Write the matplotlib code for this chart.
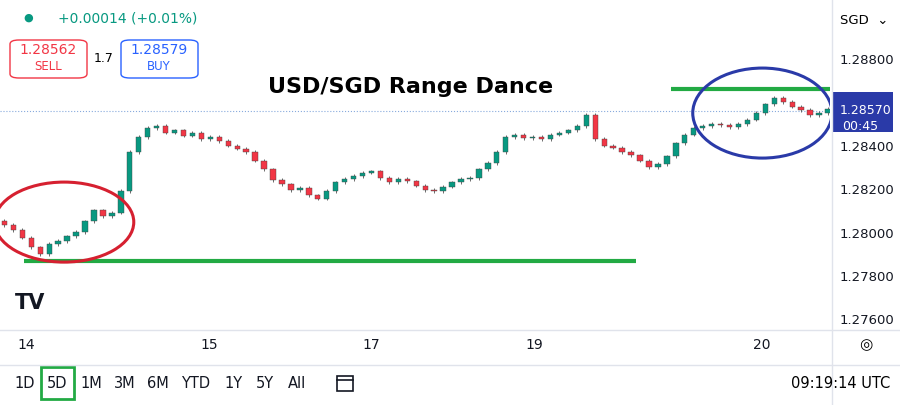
import matplotlib
matplotlib.use("Agg")
import matplotlib.pyplot as plt
from matplotlib.patches import Ellipse, Rectangle, FancyBboxPatch

closes = [1.28042,1.28020,1.27985,1.27940,1.27910,1.27955,1.27970,1.27990,1.28010,1.28060,
1.28110,1.28085,1.28100,1.28200,1.28380,1.28450,1.28490,1.28500,1.28470,1.28480,
1.28455,1.28470,1.28440,1.28450,1.28430,1.28410,1.28395,1.28380,1.28340,1.28300,
1.28250,1.28230,1.28205,1.28215,1.28180,1.28165,1.28200,1.28240,1.28255,1.28270,
1.28285,1.28290,1.28260,1.28240,1.28255,1.28245,1.28225,1.28205,1.28200,1.28220,
1.28240,1.28255,1.28260,1.28300,1.28330,1.28380,1.28450,1.28460,1.28445,1.28450,
1.28440,1.28460,1.28470,1.28480,1.28500,1.28550,1.28440,1.28410,1.28400,1.28380,
1.28365,1.28340,1.28310,1.28325,1.28360,1.28420,1.28460,1.28490,1.28500,1.28510,
1.28505,1.28495,1.28510,1.28530,1.28560,1.28600,1.28630,1.28610,1.28590,1.28575,
1.28550,1.28560,1.28580]
date_labels = ["14", "15", "17", "19", "20"]
date_pos = [2.4, 22.8, 40.8, 58.9, 84.1]
price_ticks = [1.288, 1.286, 1.284, 1.282, 1.280, 1.278, 1.276]
support, resistance, last_price = 1.27876, 1.28671, 1.28570

W, H = 900, 405
fig = plt.figure(figsize=(9, 4.05), dpi=100)
fig.patch.set_facecolor("white")
ax = fig.add_axes([0, (H-330)/H, 830/W, 330/H])
ax.set_xlim(-0.5, 830/9)
ax.set_ylim(1.27558, 1.29082)
for s in ax.spines.values(): s.set_visible(False)
ax.set_xticks([]); ax.set_yticks([])

for i, c in enumerate(closes):
    o = closes[i-1] if i > 0 else c + 0.0002
    col = "#089981" if c >= o else "#f23645"
    hi, lo = max(o, c) + 0.00008, min(o, c) - 0.00008
    ax.vlines(i, lo, hi, color="#555555", lw=0.6, zorder=2)
    ax.add_patch(Rectangle((i-0.3, min(o, c)), 0.6, max(abs(c-o), 0.00002),
                           facecolor=col, edgecolor="#444444", lw=0.3, zorder=3))

ax.hlines(support, 20/9, 635/9, color="#22aa44", lw=3, zorder=4)
ax.hlines(resistance, 670/9, 832/9, color="#22aa44", lw=3, zorder=4)
ax.axhline(last_price, color="#88aadd", lw=0.8, ls=":", zorder=1)
pp = 0.002/43.3
ax.add_patch(Ellipse((60/9, 1.288-(222-61)*pp), 140/9, 80*pp, fill=False, ec="#d62030", lw=2.2, zorder=5))
ax.add_patch(Ellipse((762/9, 1.288-(113-61)*pp), 140/9, 90*pp, fill=False, ec="#2a3aa8", lw=2.2, zorder=5))
ax.text(408/9, 1.288-(87-61)*pp, "USD/SGD Range Dance", fontsize=16, fontweight="bold",
        ha="center", va="center", zorder=6)

def ft(x, y, s, **kw):
    fig.text(x/W, 1-y/H, s, **kw)

fig.add_artist(plt.Line2D([832/W]*2, [0, 1], color="#e0e3eb", lw=1))
for p in price_ticks:
    y = 61 + (1.288-p)/pp
    if abs(p - last_price) > 0.0008:
        ft(840, y, f"{p:.5f}", fontsize=9.5, va="center", color="#131722")
fig.add_artist(FancyBboxPatch((833/W, 1-132/H), 60/W, 40/H, boxstyle="square,pad=0",
                              transform=fig.transFigure, fc="#2a3aa8", ec="none"))
ft(840, 110, "1.28570", fontsize=9, color="white", va="center")
ft(842, 126, "00:45", fontsize=9, color="white", va="center")
ft(840, 20, "SGD  ⌄", fontsize=9.5, va="center")

fig.add_artist(plt.Line2D([0, 1], [1-330/H]*2, color="#e0e3eb", lw=1))
for lab, pos in zip(date_labels, date_pos):
    ft(pos*9 + 4.5, 345, lab, fontsize=10, ha="center", va="center", color="#131722")
ft(866, 345, "◎", fontsize=11, ha="center", va="center")

ft(28, 18, "●", fontsize=8, color="#089981", ha="center", va="center")
ft(58, 18, "+0.00014 (+0.01%)", fontsize=10, color="#089981", va="center")
for x0, col, val, lab in [(10, "#f23645", "1.28562", "SELL"), (121, "#2962ff", "1.28579", "BUY")]:
    fig.add_artist(FancyBboxPatch((x0/W, 1-78/H), 77/W, 38/H, boxstyle="round,pad=0,rounding_size=0.01",
                                  transform=fig.transFigure, fc="white", ec=col, lw=1))
    ft(x0+38, 50, val, fontsize=10, color=col, ha="center", va="center")
    ft(x0+38, 67, lab, fontsize=8.5, color=col, ha="center", va="center")
ft(104, 58, "1.7", fontsize=9, ha="center", va="center")
ft(15, 303, "TV", fontsize=15, fontweight="bold", va="center", color="#131722")

fig.add_artist(plt.Line2D([0, 1], [1-365/H]*2, color="#e0e3eb", lw=1))
for lab, x in zip(["1D","5D","1M","3M","6M","YTD","1Y","5Y","All"], [25,57,91,125,158,196,233,265,297]):
    ft(x, 383, lab, fontsize=10.5, ha="center", va="center", color="#131722")
fig.add_artist(Rectangle((41/W, 1-399/H), 33/W, 32/H, transform=fig.transFigure, fill=False, ec="#22aa44", lw=2))
fig.add_artist(Rectangle((337/W, 1-391/H), 16/W, 15/H, transform=fig.transFigure, fill=False, ec="#131722", lw=1.2))
fig.add_artist(plt.Line2D([337/W, 353/W], [1-380/H]*2, color="#131722", lw=1.2))
ft(890, 383, "09:19:14 UTC", fontsize=10.5, ha="right", va="center")

fig.savefig("out.png", dpi=100)
